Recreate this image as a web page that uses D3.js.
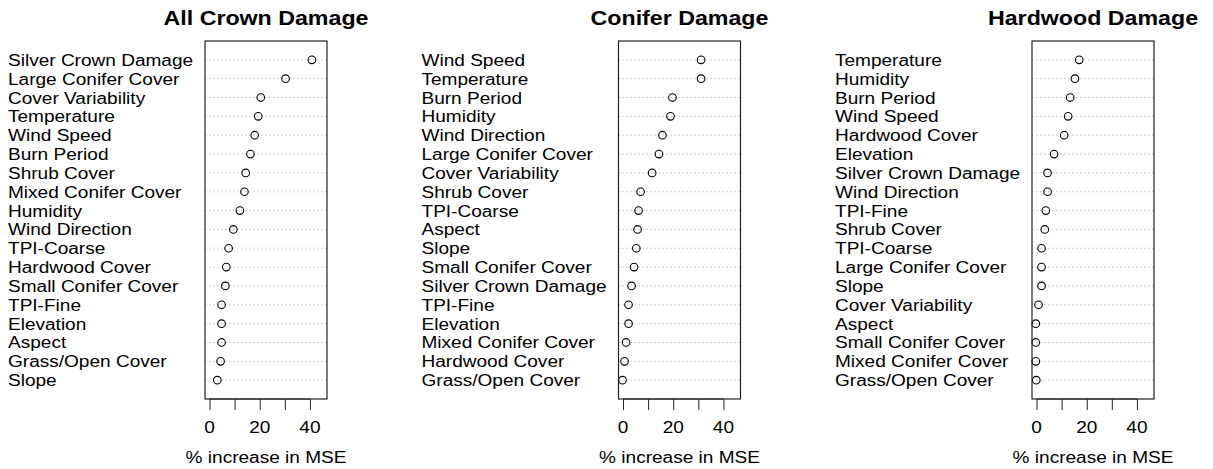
<!DOCTYPE html>
<html>
<head>
<meta charset="utf-8">
<script src="https://cdn.jsdelivr.net/npm/d3@7"></script>
<style>
  body { margin: 0; background: #fff; }
  svg { font-family: "Liberation Sans", Arial, Helvetica, sans-serif; }
</style>
</head>
<body>
<div id="chart"></div>
<script>
// variable importance, read top to bottom

var allLabels = ["Silver Crown Damage", "Large Conifer Cover", "Cover Variability", "Temperature",
  "Wind Speed", "Burn Period", "Shrub Cover", "Mixed Conifer Cover", "Humidity", "Wind Direction",
  "TPI-Coarse", "Hardwood Cover", "Small Conifer Cover", "TPI-Fine", "Elevation", "Aspect",
  "Grass/Open Cover", "Slope"];
var allValues = [40.8, 30.3, 20.4, 19.4, 18.0, 16.3, 14.4, 13.9, 12.1, 9.5, 7.6, 6.7, 6.3, 4.8, 4.8, 4.8, 4.4, 3.1];

var coniferLabels = ["Wind Speed", "Temperature", "Burn Period", "Humidity", "Wind Direction",
  "Large Conifer Cover", "Cover Variability", "Shrub Cover", "TPI-Coarse", "Aspect", "Slope",
  "Small Conifer Cover", "Silver Crown Damage", "TPI-Fine", "Elevation", "Mixed Conifer Cover",
  "Hardwood Cover", "Grass/Open Cover"];
var coniferValues = [31.1, 31.1, 19.7, 18.9, 15.7, 14.3, 11.6, 7.0, 6.2, 5.8, 5.3, 4.4, 3.4, 2.2, 2.2, 1.2, 0.6, -0.2];

var hardwoodLabels = ["Temperature", "Humidity", "Burn Period", "Wind Speed", "Hardwood Cover",
  "Elevation", "Silver Crown Damage", "Wind Direction", "TPI-Fine", "Shrub Cover", "TPI-Coarse",
  "Large Conifer Cover", "Slope", "Cover Variability", "Aspect", "Small Conifer Cover",
  "Mixed Conifer Cover", "Grass/Open Cover"];
var hardwoodValues = [17.0, 15.3, 13.4, 12.6, 11.0, 7.0, 4.4, 4.4, 3.7, 3.3, 2.0, 2.0, 2.0, 0.8, -0.3, -0.3, -0.3, -0.1];

var titles = ["All Crown Damage", "Conifer Damage", "Hardwood Damage"];
var xTicks = [0, 10, 20, 30, 40];
var xTickLabels = [0, 20, 40];
var xLabel = "% increase in MSE";

// layout
var width = 1213, height = 469;
var boxLefts = [205, 618.5, 1032];
var boxWidth = 122;
var boxTop = 41, boxBottom = 399;
var stretch = 1.19; // text in the original is a bit wide

var svg = d3.select("#chart")
  .append("svg")
    .attr("width", width)
    .attr("height", height);

function stretchedText(g, x, y, txt, anchor) {
  return g.append("text")
    .attr("transform", "translate(" + x + "," + y + ") scale(" + stretch + ",1)")
    .attr("text-anchor", anchor)
    .text(txt);
}

function drawPanel(i, labels, values) {
  var left = boxLefts[i];

  var x = d3.scaleLinear()
    .domain([-1.8, 46.8])
    .range([left, left + boxWidth]);

  var y = d3.scaleLinear()
    .domain([-1, labels.length])
    .range([boxTop, boxBottom]);

  var g = svg.append("g");

  // dotted guide lines
  g.selectAll("line.guide")
    .data(labels)
    .enter()
    .append("line")
      .attr("class", "guide")
      .attr("x1", x.range()[0])
      .attr("x2", x.range()[1])
      .attr("y1", function(d, k) { return y(k); })
      .attr("y2", function(d, k) { return y(k); })
      .attr("stroke", "#c4c4c4")
      .attr("stroke-width", 1)
      .attr("stroke-dasharray", "1.5,2.5");

  // points
  g.selectAll("circle")
    .data(values)
    .enter()
    .append("circle")
      .attr("cx", function(d) { return x(d); })
      .attr("cy", function(d, k) { return y(k); })
      .attr("r", 3.8)
      .attr("fill", "none")
      .attr("stroke", "#000")
      .attr("stroke-width", 1.1);

  // box
  g.append("rect")
    .attr("x", x.range()[0])
    .attr("y", boxTop)
    .attr("width", boxWidth)
    .attr("height", boxBottom - boxTop)
    .attr("fill", "none")
    .attr("stroke", "#222")
    .attr("stroke-width", 1.2);

  // row labels
  var lab = g.append("g")
    .style("font-size", "16px")
    .attr("fill", "#000");
  labels.forEach(function(d, k) {
    stretchedText(lab, left - 197, y(k) + 6, d, "start");
  });

  // x axis
  var axis = d3.axisBottom(x)
    .tickValues(xTicks)
    .tickSize(11)
    .tickFormat("");
  var ax = g.append("g")
    .attr("transform", "translate(0," + boxBottom + ")")
    .call(axis);
  ax.select(".domain")
    .attr("d", "M" + x(0) + ",0H" + x(40))
    .attr("stroke", "#222");
  ax.selectAll(".tick line").attr("stroke", "#222");

  var tl = g.append("g")
    .style("font-size", "16px")
    .attr("fill", "#000");
  xTickLabels.forEach(function(t) {
    stretchedText(tl, x(t), 433, t, "middle");
  });

  // axis title
  var mid = left + boxWidth / 2;
  stretchedText(tl, mid, 463, xLabel, "middle");

  // panel title
  var tt = g.append("g")
    .style("font-size", "19.5px")
    .style("font-weight", "bold")
    .attr("fill", "#000");
  stretchedText(tt, mid, 25, titles[i], "middle");
}

drawPanel(0, allLabels, allValues);
drawPanel(1, coniferLabels, coniferValues);
drawPanel(2, hardwoodLabels, hardwoodValues);
</script>
</body>
</html>
